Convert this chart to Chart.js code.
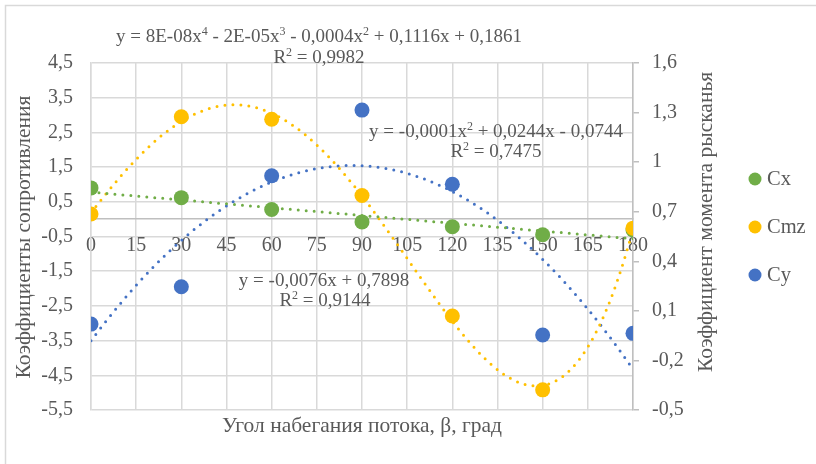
<!DOCTYPE html>
<html>
<head>
<meta charset="utf-8">
<script src="https://cdn.jsdelivr.net/npm/chart.js@4/dist/chart.umd.min.js"></script>
<style>
  html, body { margin: 0; padding: 0; background: #ffffff; }
  canvas { display: block; }
</style>
</head>
<body>
<canvas id="chart" width="816" height="464"></canvas>
<script>
// Measured coefficients versus flow angle
const angles    = [0, 30, 60, 90, 120, 150, 180];
const cxValues  = [0.90, 0.62, 0.28, -0.08, -0.22, -0.45, -0.31];
const cmzValues = [0.15, 2.95, 2.88, 0.68, -2.79, -4.92, -0.26];
const cyValues  = [0.02, 0.246, 0.918, 1.315, 0.866, -0.046, -0.036];

const seriesNames = ['Cx', 'Cmz', 'Cy'];

// Axis ranges
const xAxisRange     = { min: 0, max: 180, step: 15 };
const leftAxisRange  = { min: -5.5, max: 4.5, step: 1 };
const rightAxisRange = { min: -0.5, max: 1.6, step: 0.3 };

// Titles
const xTitle     = 'Угол набегания потока, β, град';
const leftTitle  = 'Коэффициенты сопротивления';
const rightTitle = 'Коэффициент момента рысканья';

// Trendline captions (^n marks a superscript)
const cmzEquation = ['y = 8E-08x^4 - 2E-05x^3 - 0,0004x^2 + 0,1116x + 0,1861', 'R^2 = 0,9982'];
const cyEquation  = ['y = -0,0001x^2 + 0,0244x - 0,0744', 'R^2 = 0,7475'];
const cxEquation  = ['y = -0,0076x + 0,7898', 'R^2 = 0,9144'];

const COLORS = { Cx: '#70AD47', Cmz: '#FFC000', Cy: '#4472C4' };
const TEXT = '#595959';
const GRID = '#d9d9d9';
const AXIS = '#bfbfbf';
const FONT = '"Liberation Serif", "Times New Roman", serif';

// Least-squares polynomial fit (x scaled to [0,1] for conditioning)
function polyfit(xs, ys, deg) {
  const s = 180;
  const n = deg + 1;
  const A = Array.from({ length: n }, () => new Array(n).fill(0));
  const b = new Array(n).fill(0);
  xs.forEach((x, k) => {
    const u = x / s;
    for (let i = 0; i < n; i++) {
      b[i] += ys[k] * Math.pow(u, i);
      for (let j = 0; j < n; j++) A[i][j] += Math.pow(u, i + j);
    }
  });
  for (let c = 0; c < n; c++) {
    let p = c;
    for (let r = c + 1; r < n; r++) if (Math.abs(A[r][c]) > Math.abs(A[p][c])) p = r;
    [A[c], A[p]] = [A[p], A[c]];
    [b[c], b[p]] = [b[p], b[c]];
    for (let r = c + 1; r < n; r++) {
      const f = A[r][c] / A[c][c];
      for (let j = c; j < n; j++) A[r][j] -= f * A[c][j];
      b[r] -= f * b[c];
    }
  }
  const coef = new Array(n).fill(0);
  for (let i = n - 1; i >= 0; i--) {
    let sum = b[i];
    for (let j = i + 1; j < n; j++) sum -= A[i][j] * coef[j];
    coef[i] = sum / A[i][i];
  }
  return x => coef.reduce((acc, c, i) => acc + c * Math.pow(x / s, i), 0);
}

function trendPoints(fn) {
  const pts = [];
  for (let x = xAxisRange.min; x <= xAxisRange.max; x += 1) pts.push({ x, y: fn(x) });
  return pts;
}

const toPoints = vals => angles.map((a, i) => ({ x: a, y: vals[i] }));

const cxTrend  = trendPoints(polyfit(angles, cxValues, 1));
const cmzTrend = trendPoints(polyfit(angles, cmzValues, 4));
const cyTrend  = trendPoints(polyfit(angles, cyValues, 2));

function trendDataset(points, color, axis) {
  return {
    label: '', data: points, yAxisID: axis, showLine: true,
    borderColor: color, borderWidth: 3, borderDash: [0, 8], borderCapStyle: 'round',
    pointRadius: 0, pointHoverRadius: 0, fill: false, tension: 0, order: 10, isTrend: true
  };
}

function markerDataset(name, vals, axis, order) {
  return {
    label: name, data: toPoints(vals), yAxisID: axis, showLine: false,
    backgroundColor: COLORS[name], borderColor: COLORS[name], borderWidth: 0,
    pointRadius: 7.5, pointHoverRadius: 7.5, order
  };
}

const fmt = v => String(Math.round(v * 10) / 10).replace('.', ',');

// Text with ^n superscripts, centred on cx
function drawRich(ctx, str, cx, baseline, size) {
  const parts = [];
  const re = /\^(\d)/g;
  let last = 0, m;
  while ((m = re.exec(str)) !== null) {
    if (m.index > last) parts.push({ t: str.slice(last, m.index), sup: false });
    parts.push({ t: m[1], sup: true });
    last = re.lastIndex;
  }
  if (last < str.length) parts.push({ t: str.slice(last), sup: false });
  const supSize = Math.round(size * 0.65);
  let total = 0;
  parts.forEach(p => {
    ctx.font = (p.sup ? supSize : size) + 'px ' + FONT;
    p.w = ctx.measureText(p.t).width;
    total += p.w;
  });
  let x = cx - total / 2;
  ctx.textAlign = 'left';
  ctx.textBaseline = 'alphabetic';
  parts.forEach(p => {
    ctx.font = (p.sup ? supSize : size) + 'px ' + FONT;
    ctx.fillText(p.t, x, p.sup ? baseline - size * 0.36 : baseline);
    x += p.w;
  });
}

const decorations = {
  id: 'decorations',
  beforeDraw(chart) {
    const ctx = chart.ctx;
    ctx.save();
    ctx.fillStyle = '#ffffff';
    ctx.fillRect(0, 0, chart.width, chart.height);
    ctx.strokeStyle = GRID;
    ctx.lineWidth = 1.5;
    ctx.strokeRect(5.5, 5.5, chart.width + 20, chart.height + 20);
    ctx.restore();
  },
  afterDraw(chart) {
    const ctx = chart.ctx;
    ctx.save();
    ctx.fillStyle = TEXT;

    // axis titles
    ctx.font = '21.5px ' + FONT;
    ctx.textAlign = 'center';
    ctx.textBaseline = 'alphabetic';
    ctx.fillText(xTitle, 362, 432);

    ctx.save();
    ctx.translate(29.5, 237);
    ctx.rotate(-Math.PI / 2);
    ctx.fillText(leftTitle, 0, 0);
    ctx.restore();

    ctx.save();
    ctx.translate(712, 222);
    ctx.rotate(-Math.PI / 2);
    ctx.fillText(rightTitle, 0, 0);
    ctx.restore();

    // trendline captions
    drawRich(ctx, cmzEquation[0], 319, 42, 19);
    drawRich(ctx, cmzEquation[1], 319, 63, 19);
    drawRich(ctx, cyEquation[0], 496, 137, 19);
    drawRich(ctx, cyEquation[1], 496, 157, 19);
    drawRich(ctx, cxEquation[0], 324, 286, 19);
    drawRich(ctx, cxEquation[1], 325, 306, 19);

    // legend
    const rows = [179, 227, 275];
    chart.data.datasets.filter(d => !d.isTrend).forEach((d, i) => {
      ctx.beginPath();
      ctx.fillStyle = d.backgroundColor;
      ctx.arc(755, rows[i], 6.5, 0, Math.PI * 2);
      ctx.fill();
      ctx.fillStyle = TEXT;
      ctx.font = '20.5px ' + FONT;
      ctx.textAlign = 'left';
      ctx.textBaseline = 'middle';
      ctx.fillText(d.label, 767, rows[i] + 1);
    });
    ctx.restore();
  }
};

new Chart(document.getElementById('chart'), {
  type: 'scatter',
  data: {
    datasets: [
      markerDataset(seriesNames[0], cxValues, 'y', 3),
      markerDataset(seriesNames[1], cmzValues, 'y', 2),
      markerDataset(seriesNames[2], cyValues, 'y2', 1),
      trendDataset(cxTrend, COLORS.Cx, 'y'),
      trendDataset(cmzTrend, COLORS.Cmz, 'y'),
      trendDataset(cyTrend, COLORS.Cy, 'y2')
    ]
  },
  options: {
    responsive: false,
    animation: false,
    layout: { padding: { left: 0, top: 63, right: 103, bottom: 54 } },
    plugins: { legend: { display: false }, tooltip: { enabled: false } },
    scales: {
      x: {
        type: 'linear',
        position: { y: 0 },
        min: xAxisRange.min, max: xAxisRange.max,
        ticks: {
          stepSize: xAxisRange.step, color: TEXT, padding: 15,
          font: { family: FONT, size: 20 }, maxRotation: 0, autoSkip: false,
          callback: v => String(v)
        },
        grid: { color: GRID, lineWidth: 1.5, drawTicks: false },
        border: { color: AXIS, width: 1.5 }
      },
      y: {
        type: 'linear', position: 'left',
        min: leftAxisRange.min, max: leftAxisRange.max,
        ticks: {
          stepSize: leftAxisRange.step, color: TEXT, padding: 18,
          font: { family: FONT, size: 20 }, callback: v => fmt(v)
        },
        grid: { color: GRID, lineWidth: 1.5, drawTicks: false },
        border: { color: GRID, width: 1.5 },
        afterFit: s => { s.width = 91; }
      },
      y2: {
        type: 'linear', position: 'right',
        min: rightAxisRange.min, max: rightAxisRange.max,
        ticks: {
          stepSize: rightAxisRange.step, color: TEXT, padding: 13,
          font: { family: FONT, size: 20 }, callback: v => fmt(v)
        },
        grid: { drawOnChartArea: false, drawTicks: true, tickLength: 6, color: AXIS, lineWidth: 1.5 },
        border: { color: AXIS, width: 1.5 },
        afterFit: s => { s.width = 80; }
      }
    }
  },
  plugins: [decorations]
});
</script>
</body>
</html>
